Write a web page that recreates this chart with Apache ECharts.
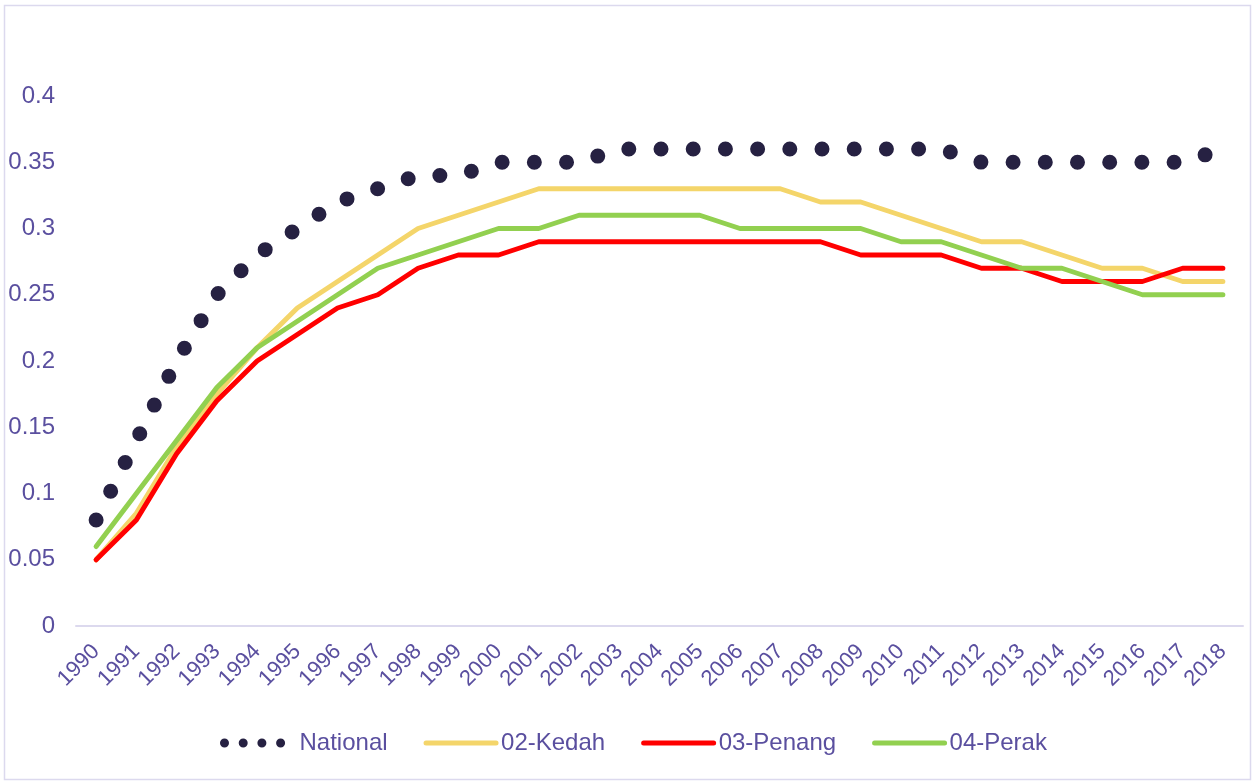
<!DOCTYPE html>
<html>
<head>
<meta charset="utf-8">
<script src="https://cdn.jsdelivr.net/npm/echarts@6/dist/echarts.min.js"></script>
<style>
  html, body { margin: 0; padding: 0; background: #fff; }
  #chart { width: 1254px; height: 781px; }
</style>
</head>
<body>
<div id="chart"></div>
<script>
const years = ['1990','1991','1992','1993','1994','1995','1996','1997','1998','1999',
    '2000','2001','2002','2003','2004','2005','2006','2007','2008','2009',
    '2010','2011','2012','2013','2014','2015','2016','2017','2018'];

const national = [0.08, 0.14, 0.20, 0.25, 0.28, 0.30, 0.32, 0.33, 0.34, 0.34,
    0.35, 0.35, 0.35, 0.36, 0.36, 0.36, 0.36, 0.36, 0.36, 0.36,
    0.36, 0.36, 0.35, 0.35, 0.35, 0.35, 0.35, 0.35, 0.36];
const kedah = [0.05, 0.085, 0.135, 0.175, 0.21, 0.24, 0.26, 0.28, 0.30, 0.31,
    0.32, 0.33, 0.33, 0.33, 0.33, 0.33, 0.33, 0.33, 0.32, 0.32,
    0.31, 0.30, 0.29, 0.29, 0.28, 0.27, 0.27, 0.26, 0.26];
const penang = [0.05, 0.08, 0.13, 0.17, 0.20, 0.22, 0.24, 0.25, 0.27, 0.28,
    0.28, 0.29, 0.29, 0.29, 0.29, 0.29, 0.29, 0.29, 0.29, 0.28,
    0.28, 0.28, 0.27, 0.27, 0.26, 0.26, 0.26, 0.27, 0.27];
const perak = [0.06, 0.10, 0.14, 0.18, 0.21, 0.23, 0.25, 0.27, 0.28, 0.29,
    0.30, 0.30, 0.31, 0.31, 0.31, 0.31, 0.30, 0.30, 0.30, 0.30,
    0.29, 0.29, 0.28, 0.27, 0.27, 0.26, 0.25, 0.25, 0.25];

const textColor = '#5a4f9f';
const font = 'Liberation Sans, Arial, sans-serif';

var myChart = echarts.init(document.getElementById('chart'));

var option = {
    backgroundColor: '#fff',
    animation: false,
    graphic: [{
        type: 'rect',
        shape: { x: 4.5, y: 5.5, width: 1246, height: 774 },
        style: { fill: 'none', stroke: '#dcd9ee', lineWidth: 1.5 },
        silent: true
    }],
    grid: { left: 76, right: 11, top: 96, bottom: 155 },
    legend: {
        left: 215,
        top: 726,
        itemWidth: 70,
        itemHeight: 14,
        itemGap: 36,
        itemStyle: { opacity: 0 },
        textStyle: { color: textColor, fontSize: 24, fontFamily: font },
        data: [
            { name: 'National', lineStyle: { width: 9, type: [0, 18.7], cap: 'round' } },
            { name: '02-Kedah', lineStyle: { width: 5, cap: 'round' } },
            { name: '03-Penang', lineStyle: { width: 5, cap: 'round' } },
            { name: '04-Perak', lineStyle: { width: 5, cap: 'round' } }
        ]
    },
    xAxis: {
        type: 'category',
        data: years,
        boundaryGap: true,
        axisTick: { show: false },
        axisLine: { lineStyle: { color: '#dcd9ee', width: 2 } },
        axisLabel: {
            rotate: 45,
            interval: 0,
            margin: 22,
            color: textColor,
            fontSize: 22,
            fontFamily: font
        },
        splitLine: { show: false }
    },
    yAxis: {
        type: 'value',
        min: 0,
        max: 0.4,
        interval: 0.05,
        axisLine: { show: false },
        axisTick: { show: false },
        splitLine: { show: false },
        axisLabel: {
            margin: 21,
            color: textColor,
            fontSize: 24,
            fontFamily: font
        }
    },
    series: [
        {
            name: 'National',
            type: 'line',
            data: national,
            symbol: 'none',
            color: '#262142',
            lineStyle: { width: 15, type: [0, 32.2], cap: 'round', color: '#262142' }
        },
        {
            name: '02-Kedah',
            type: 'line',
            data: kedah,
            symbol: 'none',
            color: '#f4d56a',
            lineStyle: { width: 5, cap: 'round', join: 'round', color: '#f4d56a' }
        },
        {
            name: '03-Penang',
            type: 'line',
            data: penang,
            symbol: 'none',
            color: '#ff0000',
            lineStyle: { width: 5, cap: 'round', join: 'round', color: '#ff0000' }
        },
        {
            name: '04-Perak',
            type: 'line',
            data: perak,
            symbol: 'none',
            color: '#92d050',
            lineStyle: { width: 5, cap: 'round', join: 'round', color: '#92d050' }
        }
    ]
};
myChart.setOption(option);
</script>
</body>
</html>
